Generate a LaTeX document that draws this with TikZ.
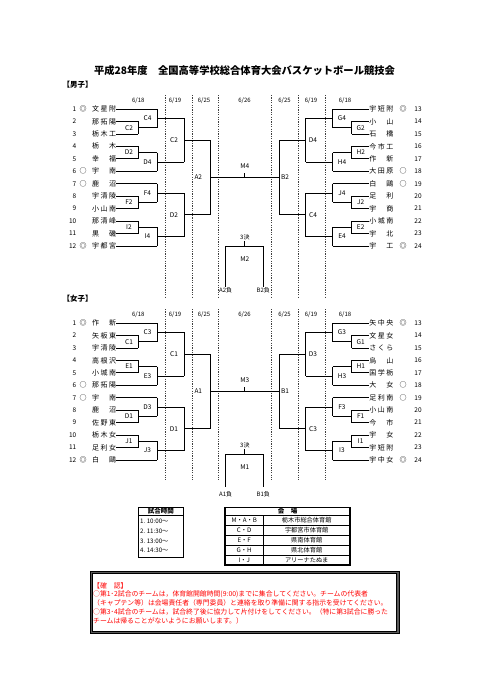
\documentclass[tikz,border=0pt]{standalone}
\usepackage{fontspec}
\setmainfont{Noto Sans CJK JP}

\tikzset{
  br/.style={line width=0.8pt},
  tln/.style={line width=0.8pt},
  dayline/.style={line width=0.6pt, dash pattern=on 1.2pt off 1.2pt, black!75},
  tm/.style={inner sep=0pt, font=\fontsize{7}{7}\selectfont},
  num/.style={inner sep=0pt, font=\fontsize{6.5}{6.5}\selectfont},
  mk/.style={inner sep=0pt, font=\fontsize{7}{7}\selectfont},
  lbl/.style={inner sep=0pt, font=\fontsize{6.5}{6.5}\selectfont},
  dt/.style={inner sep=0pt, font=\fontsize{6}{6}\selectfont},
  tbl/.style={inner sep=0pt, font=\fontsize{6.2}{6.2}\selectfont},
  tblhd/.style={inner sep=0pt, font=\bfseries\fontsize{6.5}{6.5}\selectfont},
  note/.style={inner sep=0pt, anchor=west, text=red, font=\fontsize{6.85}{6.85}\selectfont},
}

% team row, left half: name (y) number mark text bracket-x
\def\lteam#1(#2)#3#4#5#6{%
  \node[num,anchor=east] (#1n) at (76.5,#2) {#3};
  \node[mk] (#1m) at (83,#2) {#4};
  \node[tm,anchor=west] (#1) at (92,#2) {\makebox[24pt]{#5}};
  \draw[tln] (#1.east) -- (#6,#2);}
% team row, right half
\def\rteam#1(#2)#3#4#5#6{%
  \node[tm,anchor=east] (#1) at (393.5,#2) {\makebox[24pt]{#5}};
  \node[mk] (#1m) at (403,#2) {#4};
  \node[num] (#1n) at (418,#2) {#3};
  \draw[tln] (#6,#2) -- (#1.west);}
% one half of the bracket (left side coordinates)
\def\skel{%
  \draw[br] (138,121.45) -- (138,133.9) (138,127.68) -- (157,127.68)
            (138,146.35) -- (138,158.8) (138,152.58) -- (157,152.58)
            (138,196.15) -- (138,208.6) (138,202.38) -- (157,202.38)
            (138,221.05) -- (138,233.5) (138,227.28) -- (157,227.28);
  \draw[br] (157,109) -- (157,127.68) (157,118.34) -- (184,118.34)
            (157,152.58) -- (157,171.25) (157,161.91) -- (184,161.91)
            (157,183.7) -- (157,202.38) (157,193.04) -- (184,193.04)
            (157,227.28) -- (157,245.95) (157,236.61) -- (184,236.61);
  \draw[br] (184,118.34) -- (184,161.91) (184,140.13) -- (210.7,140.13)
            (184,193.04) -- (184,236.61) (184,214.83) -- (210.7,214.83);
  \draw[br] (210.7,140.13) -- (210.7,214.83);}
\def\days{%
  \node[dt] (d1) at (138.3,100.5) {6/18};
  \node[dt] (d2) at (175,100.5) {6/19};
  \node[dt] (d3) at (204,100.5) {6/25};
  \node[dt] (d4) at (244.5,100.5) {6/26};
  \node[dt] (d5) at (284.5,100.5) {6/25};
  \node[dt] (d6) at (311,100.5) {6/19};
  \node[dt] (d7) at (345,100.5) {6/18};}

\begin{document}
\begin{tikzpicture}[x=1pt,y=-1pt]
\useasboundingbox[fill=white] (0,0) rectangle (481,680);

\node[inner sep=0pt, font=\bfseries\fontsize{10.3}{10.3}\selectfont] (title) at (244.5,70.5)
  {平成28年度　全国高等学校総合体育大会バスケットボール競技会};

%%%%% boys %%%%%
\node[inner sep=0pt, anchor=west, font=\bfseries\fontsize{7.5}{7.5}\selectfont] (boys) at (62.5,84.5) {【男子】};
\draw[dayline] (165,95) -- (165,298) (192,95) -- (192,298) (218,95) -- (218,298)
               (271,95) -- (271,298) (298,95) -- (298,298) (325,95) -- (325,298);
\days
\skel
\begin{scope}[xshift=489.7pt,xscale=-1]\skel\end{scope}
\draw[br] (210.7,177.48) -- (279,177.48) (244.85,177.48) -- (244.85,172.5);
\node[lbl] (M4) at (244.85,166) {M4};

\lteam{m1}(109){1}{◎}{文\hfill 星\hfill 附}{157}
\lteam{m2}(121.45){2}{}{那\hfill 拓\hfill 陽}{138}
\lteam{m3}(133.9){3}{}{栃\hfill 木\hfill 工}{138}
\lteam{m4}(146.35){4}{}{栃\hfill 木}{138}
\lteam{m5}(158.8){5}{}{幸\hfill 福}{138}
\lteam{m6}(171.25){6}{○}{宇\hfill 南}{157}
\lteam{m7}(183.7){7}{○}{鹿\hfill 沼}{157}
\lteam{m8}(196.15){8}{}{宇\hfill 清\hfill 陵}{138}
\lteam{m9}(208.6){9}{}{小\hfill 山\hfill 南}{138}
\lteam{m10}(221.05){10}{}{那\hfill 清\hfill 峰}{138}
\lteam{m11}(233.5){11}{}{黒\hfill 磯}{138}
\lteam{m12}(245.95){12}{◎}{宇\hfill 都\hfill 宮}{157}
\rteam{m13}(109){13}{◎}{宇\hfill 短\hfill 附}{332.7}
\rteam{m14}(121.45){14}{}{小\hfill 山}{351.7}
\rteam{m15}(133.9){15}{}{石\hfill 橋}{351.7}
\rteam{m16}(146.35){16}{}{今\hfill 市\hfill 工}{351.7}
\rteam{m17}(158.8){17}{}{作\hfill 新}{351.7}
\rteam{m18}(171.25){18}{○}{大\hfill 田\hfill 原}{332.7}
\rteam{m19}(183.7){19}{○}{白\hfill 鷗}{332.7}
\rteam{m20}(196.15){20}{}{足\hfill 利}{351.7}
\rteam{m21}(208.6){21}{}{宇\hfill 商}{351.7}
\rteam{m22}(221.05){22}{}{小\hfill 城\hfill 南}{351.7}
\rteam{m23}(233.5){23}{}{宇\hfill 北}{351.7}
\rteam{m24}(245.95){24}{◎}{宇\hfill 工}{332.7}

\node[lbl] (mC2) at (129,127.68) {C2};
\node[lbl] (mC4) at (147.5,118.34) {C4};
\node[lbl] (mD2) at (129,152.58) {D2};
\node[lbl] (mD4) at (147.5,161.91) {D4};
\node[lbl] (mF4) at (147.5,193.04) {F4};
\node[lbl] (mF2) at (129,202.38) {F2};
\node[lbl] (mI2) at (129,227.28) {I2};
\node[lbl] (mI4) at (147.5,236.61) {I4};
\node[lbl] (mC2b) at (174,140.13) {C2};
\node[lbl] (mD2b) at (174,214.83) {D2};
\node[lbl] (mA2) at (198.3,177.48) {A2};
\node[lbl] (mG4) at (342,118.34) {G4};
\node[lbl] (mG2) at (360.7,127.68) {G2};
\node[lbl] (mH2) at (360.7,152.58) {H2};
\node[lbl] (mH4) at (342,161.91) {H4};
\node[lbl] (mJ4) at (342,193.04) {J4};
\node[lbl] (mJ2) at (360.7,202.38) {J2};
\node[lbl] (mE2) at (360.7,227.28) {E2};
\node[lbl] (mE4) at (342,236.61) {E4};
\node[lbl] (mD4b) at (313,140.13) {D4};
\node[lbl] (mC4b) at (313,214.83) {C4};
\node[lbl] (mB2) at (285,177.48) {B2};

% third place
\node[dt] (m3rd) at (244.85,237) {3決};
\draw[br] (225.7,286.7) -- (225.7,246.7) -- (263.3,246.7) -- (263.3,286.7) (244.85,246.7) -- (244.85,241);
\node[lbl] (M2) at (244.85,259.3) {M2};
\node[dt] (mA2l) at (225.7,290.5) {A2負};
\node[dt] (mB2l) at (263.3,290.5) {B2負};

%%%%% girls %%%%%
\begin{scope}[yshift=-214pt]
\node[inner sep=0pt, anchor=west, font=\bfseries\fontsize{7.5}{7.5}\selectfont] (girls) at (62.5,84.5) {【女子】};
\draw[dayline] (165,95) -- (165,266) (192,95) -- (192,266) (218,95) -- (218,266)
               (271,95) -- (271,266) (298,95) -- (298,266) (325,95) -- (325,266);
\days
\skel
\begin{scope}[xshift=489.7pt,xscale=-1]\skel\end{scope}
\draw[br] (210.7,177.48) -- (279,177.48) (244.85,177.48) -- (244.85,172.5);
\node[lbl] (M3) at (244.85,166) {M3};

\lteam{f1}(109){1}{◎}{作\hfill 新}{157}
\lteam{f2}(121.45){2}{}{矢\hfill 板\hfill 東}{138}
\lteam{f3}(133.9){3}{}{宇\hfill 清\hfill 陵}{138}
\lteam{f4}(146.35){4}{}{高\hfill 根\hfill 沢}{138}
\lteam{f5}(158.8){5}{}{小\hfill 城\hfill 南}{138}
\lteam{f6}(171.25){6}{○}{那\hfill 拓\hfill 陽}{157}
\lteam{f7}(183.7){7}{○}{宇\hfill 南}{157}
\lteam{f8}(196.15){8}{}{鹿\hfill 沼}{138}
\lteam{f9}(208.6){9}{}{佐\hfill 野\hfill 東}{138}
\lteam{f10}(221.05){10}{}{栃\hfill 木\hfill 女}{138}
\lteam{f11}(233.5){11}{}{足\hfill 利\hfill 女}{138}
\lteam{f12}(245.95){12}{◎}{白\hfill 鷗}{157}
\rteam{f13}(109){13}{◎}{矢\hfill 中\hfill 央}{332.7}
\rteam{f14}(121.45){14}{}{文\hfill 星\hfill 女}{351.7}
\rteam{f15}(133.9){15}{}{さ\hfill く\hfill ら}{351.7}
\rteam{f16}(146.35){16}{}{烏\hfill 山}{351.7}
\rteam{f17}(158.8){17}{}{国\hfill 学\hfill 栃}{351.7}
\rteam{f18}(171.25){18}{○}{大\hfill 女}{332.7}
\rteam{f19}(183.7){19}{○}{足\hfill 利\hfill 南}{332.7}
\rteam{f20}(196.15){20}{}{小\hfill 山\hfill 南}{351.7}
\rteam{f21}(208.6){21}{}{今\hfill 市}{351.7}
\rteam{f22}(221.05){22}{}{宇\hfill 女}{351.7}
\rteam{f23}(233.5){23}{}{宇\hfill 短\hfill 附}{351.7}
\rteam{f24}(245.95){24}{◎}{宇\hfill 中\hfill 女}{332.7}

\node[lbl] (fC1) at (129,127.68) {C1};
\node[lbl] (fC3) at (147.5,118.34) {C3};
\node[lbl] (fE1) at (129,152.58) {E1};
\node[lbl] (fE3) at (147.5,161.91) {E3};
\node[lbl] (fD3) at (147.5,193.04) {D3};
\node[lbl] (fD1) at (129,202.38) {D1};
\node[lbl] (fJ1) at (129,227.28) {J1};
\node[lbl] (fJ3) at (147.5,236.61) {J3};
\node[lbl] (fC1b) at (174,140.13) {C1};
\node[lbl] (fD1b) at (174,214.83) {D1};
\node[lbl] (fA1) at (198.3,177.48) {A1};
\node[lbl] (fG3) at (342,118.34) {G3};
\node[lbl] (fG1) at (360.7,127.68) {G1};
\node[lbl] (fH1) at (360.7,152.58) {H1};
\node[lbl] (fH3) at (342,161.91) {H3};
\node[lbl] (fF3) at (342,193.04) {F3};
\node[lbl] (fF1) at (360.7,202.38) {F1};
\node[lbl] (fI1) at (360.7,227.28) {I1};
\node[lbl] (fI3) at (342,236.61) {I3};
\node[lbl] (fD3b) at (313,140.13) {D3};
\node[lbl] (fC3b) at (313,214.83) {C3};
\node[lbl] (fB1) at (285,177.48) {B1};

% third place
\node[dt] (f3rd) at (244.85,231) {3決};
\draw[br] (225.7,272.7) -- (225.7,240) -- (263.3,240) -- (263.3,272.7) (244.85,240) -- (244.85,234.5);
\node[lbl] (M1) at (244.85,252.7) {M1};
\node[dt] (fA1l) at (225.7,280) {A1負};
\node[dt] (fB1l) at (263.3,280) {B1負};
\end{scope}

%%%%% tables %%%%%
\draw[line width=1.2pt] (138.3,507.3) rectangle (183.3,557.3);
\draw[line width=1pt] (138.3,515.7) -- (183.3,515.7);
\node[tblhd] (timehd) at (160.8,511.5) {試合時間};
\node[tbl,anchor=west] (t1) at (140,520.8) {1.~10:00～};
\node[tbl,anchor=west] (t2) at (140,530.8) {2.~11:30～};
\node[tbl,anchor=west] (t3) at (140,540.8) {3.~13:00～};
\node[tbl,anchor=west] (t4) at (140,550.6) {4.~14:30～};

\draw[line width=1.2pt] (225,507.3) rectangle (350,565);
\draw[line width=1pt] (225,515.7) -- (350,515.7);
\draw[line width=0.6pt] (263.3,515.7) -- (263.3,565)
  (225,525.56) -- (350,525.56) (225,535.42) -- (350,535.42)
  (225,545.28) -- (350,545.28) (225,555.14) -- (350,555.14);
\node[tblhd] (hallhd) at (287.5,511.5) {会　場};
\node[tbl] (k1) at (244.2,520.6) {M・A・B};
\node[tbl] (h1) at (306.7,520.6) {栃木市総合体育館};
\node[tbl] (k2) at (244.2,530.5) {C・D};
\node[tbl] (h2) at (306.7,530.5) {宇都宮市体育館};
\node[tbl] (k3) at (244.2,540.4) {E・F};
\node[tbl] (h3) at (306.7,540.4) {県南体育館};
\node[tbl] (k4) at (244.2,550.2) {G・H};
\node[tbl] (h4) at (306.7,550.2) {県北体育館};
\node[tbl] (k5) at (244.2,560.1) {I・J};
\node[tbl] (h5) at (306.7,560.1) {アリーナたぬま};

%%%%% notice %%%%%
\draw[line width=2.6pt, black!65] (91.3,572.3) rectangle (397.7,632.2);
\draw[line width=0.5pt] (90,571) rectangle (399,633.5);
\draw[line width=0.5pt] (92.6,573.6) rectangle (396.4,630.9);
\node[note] (n1) at (93,585.5) {【確　認】};
\node[note] (n2) at (93,594.5) {○第1･2試合のチームは，体育館開館時間(9:00)までに集合してください。チームの代表者};
\node[note] (n3) at (93,603.2) {（キャプテン等）は会場責任者（専門委員）と連絡を取り準備に関する指示を受けてください。};
\node[note] (n4) at (93,611.8) {○第3･4試合のチームは，試合終了後に協力して片付けをしてください。（特に第3試合に勝った};
\node[note] (n5) at (93,620.4) {チームは帰ることがないようにお願いします。）};
\end{tikzpicture}
\end{document}
